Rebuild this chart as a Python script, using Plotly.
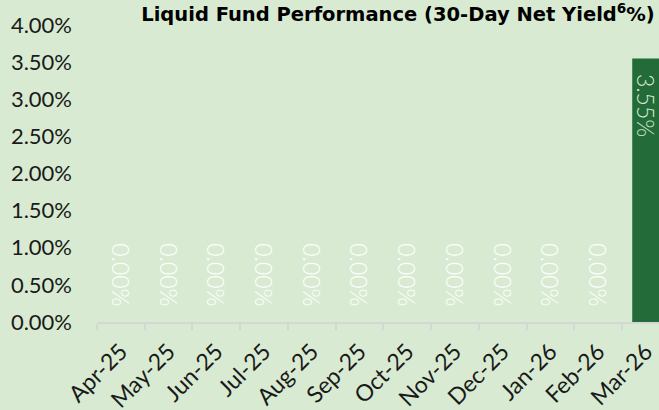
import plotly.graph_objects as go

months = ["Apr-25", "May-25", "Jun-25", "Jul-25", "Aug-25", "Sep-25",
          "Oct-25", "Nov-25", "Dec-25", "Jan-26", "Feb-26", "Mar-26"]
net_yield = [0.00, 0.00, 0.00, 0.00, 0.00, 0.00, 0.00, 0.00, 0.00, 0.00, 0.00, 3.55]
y_ticks = [0.0, 0.5, 1.0, 1.5, 2.0, 2.5, 3.0, 3.5, 4.0]

BG = "#d8ebd2"
BAR = "#236b38"
FONT = "Lato"
PAD = "\u00a0\u00a0"

labels = [PAD + f"{v:.2f}%" + PAD for v in net_yield]
positions = ["inside" if v > 0 else "outside" for v in net_yield]
text_colors = [BG if v > 0 else "#ffffff" for v in net_yield]

fig = go.Figure(go.Bar(
    x=months,
    y=net_yield,
    width=0.57,
    marker=dict(color=BAR, line=dict(width=0)),
    text=labels,
    textposition=positions,
    insidetextanchor="end",
    textangle=90,
    constraintext="none",
    textfont=dict(family=FONT, size=23, color=text_colors, weight=300),
    cliponaxis=False,
    hoverinfo="skip",
))

fig.update_layout(
    width=659, height=410,
    paper_bgcolor=BG, plot_bgcolor=BG,
    margin=dict(l=97, r=0, t=25, b=88),
    showlegend=False,
    font=dict(family=FONT, color="#1a1a1a"),
    title=dict(
        text="Liquid Fund Performance (30-Day Net Yield<sup>6</sup>%)",
        font=dict(family="DejaVu Sans", size=19.5, color="#000000", weight="bold"),
        x=398 / 659, xref="container", xanchor="center",
        y=1 - 14 / 410, yref="container", yanchor="middle",
    ),
)

fig.update_xaxes(
    type="category",
    range=[-0.5, 11.276],
    automargin=False,
    tickson="boundaries",
    ticks="outside", ticklen=6, tickwidth=2, tickcolor="#d6d6d6",
    showline=True, linecolor="#d6d6d6", linewidth=2,
    showgrid=False, zeroline=False,
    tickangle=-45,
    ticklabelstandoff=5,
    tickfont=dict(family=FONT, size=23, color="#1a1a1a"),
)

fig.update_yaxes(
    range=[0, 4],
    automargin=False,
    tickvals=y_ticks,
    ticktext=[f"{v:.2f}%" for v in y_ticks],
    showgrid=False, zeroline=False, showline=False,
    ticks="", ticklabelstandoff=24,
    tickfont=dict(family=FONT, size=22, color="#1a1a1a"),
)

fig.write_html("out.html", config={"displayModeBar": False},
               post_script="document.body.style.margin='0px';")
